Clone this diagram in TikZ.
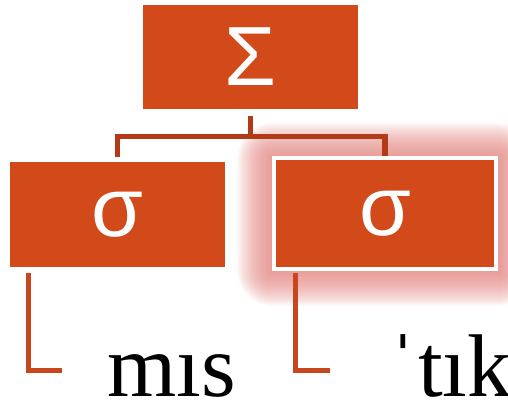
\documentclass[tikz,border=0pt]{standalone}
\usepackage{fontspec}
\setmainfont{Liberation Serif}
\newfontfamily\symfont{Liberation Sans}
\usetikzlibrary{calc}

\definecolor{boxorange}{HTML}{D24A19}
\definecolor{treered}{HTML}{B33A16}
\definecolor{linkorange}{HTML}{C8461E}
\definecolor{glowred}{HTML}{E1817C}

\begin{document}
\begin{tikzpicture}[x=0.5pt,y=0.5pt,
  unit/.style={fill=boxorange, minimum width=107.5pt, minimum height=52.5pt, inner sep=0pt,
    text=white, font=\symfont\fontsize{42}{42}\selectfont},
  branch/.style={draw=treered, line width=2.75pt},
  link/.style={draw=linkorange, line width=2.5pt},
  word/.style={anchor=base west, inner sep=0pt, text depth=0pt, font=\fontsize{44.5}{50}\selectfont}]
\useasboundingbox (0,0) rectangle (508,406);
% soft red glow round the stressed syllable
\foreach \r in {1,...,28} {
  \fill[glowred, opacity=0.05, rounded corners=0.65*\r pt] (272-1.25*\r,135-1.25*\r) rectangle (498+1.25*\r,248+1.25*\r);
}
% foot and syllables
\node[unit, minimum height=52pt] (foot) at (250.5,349) {Σ};
\node[unit] (syl1) at (117.5,191.5) {σ};
\node[unit, minimum width=111pt, minimum height=55.5pt, draw=white, line width=2pt] (syl2) at (385,192) {σ};
% segments
\node[word] (word1) at (107,9) {mıs};
\node[word] (word2) at (388,9) {ˈtık};
% tree branches
\draw[branch, shorten <=3.5pt] (foot.south) -- ++(0,-27) coordinate (fork);
\draw[branch] (fork) -| ([yshift=2.5pt]syl1.north);
\draw[branch] (fork) -| (syl2.north);
% links down to the words
\draw[link] ([xshift=9.5pt,yshift=-3pt]syl1.south west) |- ([shift={(-22.5pt,13pt)}]word1.base west);
\draw[link] ([xshift=11.5pt,yshift=-0.75pt]syl2.south west) |- ([shift={(-29pt,13pt)}]word2.base west);
\end{tikzpicture}
\end{document}
